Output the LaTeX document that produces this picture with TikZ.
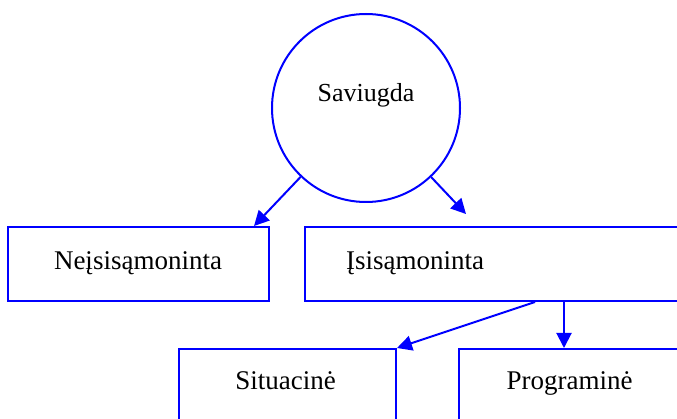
\documentclass[tikz,border=0pt]{standalone}
\usepackage{fontspec}
\setmainfont{Liberation Serif}
\usetikzlibrary{arrows.meta}

\begin{document}
\begin{tikzpicture}[x=1pt, y=-1pt, >={Triangle[length=15pt,width=15pt]},
  box/.style={draw=blue, line width=2pt, rectangle, inner sep=0pt},
  lbl/.style={anchor=base, font=\fontsize{27}{30}\selectfont},
  link/.style={->, draw=blue, line width=2pt}]
  \useasboundingbox (0,0) rectangle (677,419);
  % Circle for Saviugda.
  \node[draw=blue, line width=2pt, circle, minimum size=188pt, inner sep=0pt] (sav) at (366,108) {};
  \node[lbl, font=\fontsize{26}{30}\selectfont] (savlbl) at (366,102) {Saviugda};
  % First row of boxes.
  \node[box, minimum width=261pt, minimum height=74pt] (neis) at (138.5,264) {};
  \node[lbl] (neislbl) at (138,270) {Neįsisąmoninta};
  \node[box, minimum width=395pt, minimum height=74pt] (isis) at (502.5,264) {};
  \node[lbl] (isislbl) at (415,270) {Įsisąmoninta};
  % Second row of boxes.
  \node[box, minimum width=217pt, minimum height=100pt] (sit) at (287.5,399) {};
  \node[lbl] (sitlbl) at (285.5,389) {Situacinė};
  \node[box, minimum width=241pt, minimum height=100pt] (prog) at (579.5,399) {};
  \node[lbl] (proglbl) at (569.5,389) {Programinė};
  % Arrows.
  \draw[link] (sav) -- ([xshift=-16pt]neis.north east);
  \draw[link] (sav) -- ([xshift=162pt, yshift=12pt]isis.north west);
  \draw[link] ([xshift=231pt]isis.south west) -- (sit.north east);
  \draw[link] ([xshift=260pt]isis.south west) -- ([xshift=106pt]prog.north west);
\end{tikzpicture}
\end{document}
